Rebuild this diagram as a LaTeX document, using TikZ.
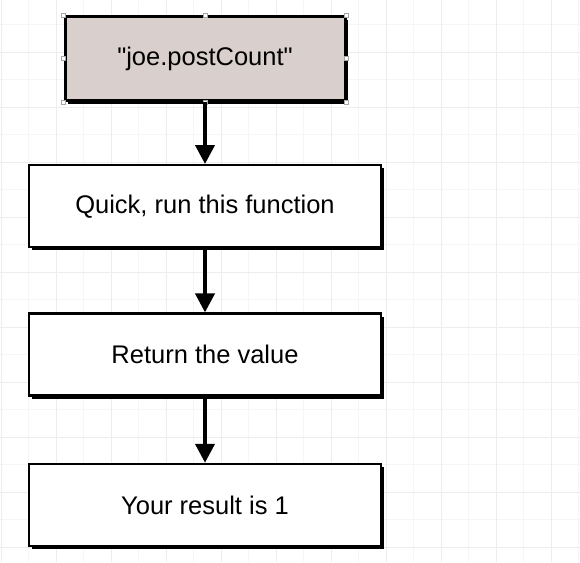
\documentclass[tikz,border=0pt]{standalone}
\usepackage{fontspec}
\setmainfont{Liberation Sans}[Ligatures=TeXOff]
\usetikzlibrary{positioning,arrows.meta,shadows}
\definecolor{selfill}{HTML}{D9CFCC}
\definecolor{gridmajor}{HTML}{EDEDED}
\definecolor{gridminor}{HTML}{F6F6F6}
\begin{document}
\begin{tikzpicture}[x=1pt,y=1pt,
  main/.style = {draw, line width=2.4pt, fill=white, minimum width=352pt, minimum height=82pt,
    font=\fontsize{25.5}{30}\selectfont,
    drop shadow={shadow xshift=3pt, shadow yshift=-3pt, opacity=1, fill=black}},
  flow/.style = {line width=4pt, -{Triangle[width=19pt,length=19pt]}},
  handle/.style = {draw=gray!70, fill=white, line width=0.6pt, minimum size=4pt, inner sep=0pt}]
  \useasboundingbox (0,0) rectangle (580,-562);
  \fill[white] (0,0) rectangle (580,-562);
  % grid
  \foreach \x in {1,28.5,...,580} \draw[gridminor, line width=0.8pt] (\x,0) -- (\x,-562);
  \foreach \y in {24.5,52,...,562} \draw[gridminor, line width=0.8pt] (0,-\y) -- (580,-\y);
  \foreach \x in {1,56,...,580} \draw[gridmajor, line width=1pt] (\x,0) -- (\x,-562);
  \foreach \y in {52,107,...,562} \draw[gridmajor, line width=1pt] (0,-\y) -- (580,-\y);
  % boxes
  \node[main, fill=selfill, line width=3pt, minimum width=280pt, minimum height=84pt] (1) at (205,-58.5) {"joe.postCount"};
  \node[main] (2) [below = 62pt of 1] {Quick, run this function};
  \node[main] (3) [below = 64pt of 2] {Return the value};
  \node[main] (4) [below = 66pt of 3] {Your result is 1};
  % selection handles
  \foreach \a in {north west, north, north east, east, south east, south, south west, west}
    \node[handle] (h-\a) at (1.\a) {};
  \draw[flow] (1) -- (2);
  \draw[flow] (2) -- (3);
  \draw[flow] (3) -- (4);
\end{tikzpicture}
\end{document}
